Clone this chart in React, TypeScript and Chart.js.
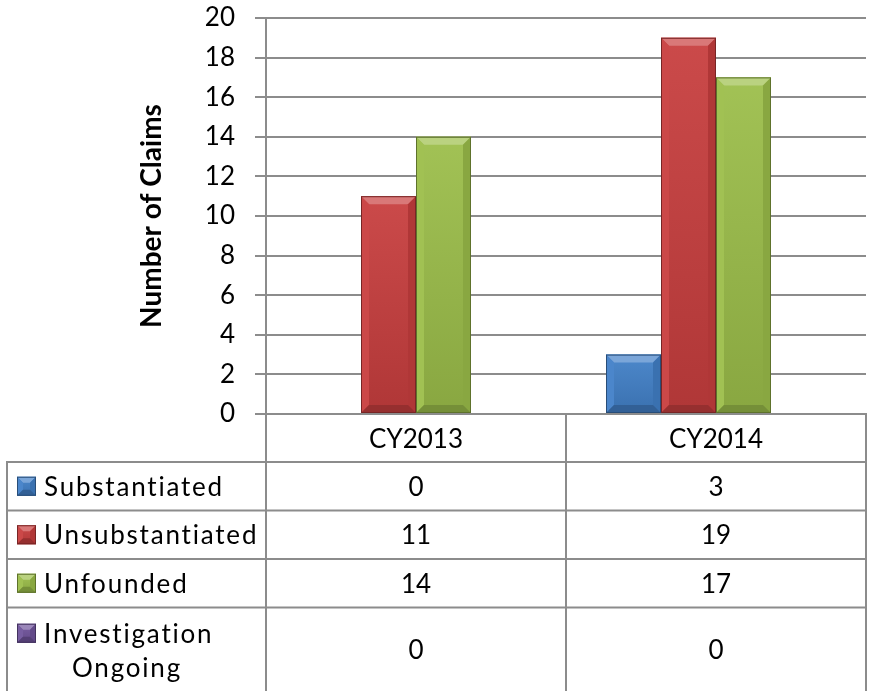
import { useEffect, useRef } from "react";
import { Chart, registerables } from "chart.js";

Chart.register(...registerables);

// ---- data ----
const categories = ["CY2013", "CY2014"];
const seriesNames = ["Substantiated", "Unsubstantiated", "Unfounded", "Investigation Ongoing"];
const seriesLabelLines = [["Substantiated"], ["Unsubstantiated"], ["Unfounded"], ["Investigation", "Ongoing"]];
const substantiated = [0, 3];
const unsubstantiated = [11, 19];
const unfounded = [14, 17];
const investigationOngoing = [0, 0];
const yMin = 0;
const yMax = 20;
const yStep = 2;
const yTitle = "Number of Claims";

// ---- style ----
const seriesColors: [number, number, number][] = [
  [66, 128, 200],
  [200, 62, 62],
  [156, 190, 74],
  [112, 84, 156],
];
const FONT = "Lato, 'Open Sans', sans-serif";
const GRID = "#8c8c8c";

function mix(c: [number, number, number], t: [number, number, number], a: number) {
  return `rgb(${Math.round(c[0] + (t[0] - c[0]) * a)},${Math.round(c[1] + (t[1] - c[1]) * a)},${Math.round(
    c[2] + (t[2] - c[2]) * a
  )})`;
}
const W: [number, number, number] = [255, 255, 255];
const K: [number, number, number] = [0, 0, 0];

function poly(ctx: CanvasRenderingContext2D, pts: number[][], fill: string) {
  ctx.beginPath();
  ctx.moveTo(pts[0][0], pts[0][1]);
  for (let i = 1; i < pts.length; i++) ctx.lineTo(pts[i][0], pts[i][1]);
  ctx.closePath();
  ctx.fillStyle = fill;
  ctx.fill();
}

function bevelRect(
  ctx: CanvasRenderingContext2D,
  l: number,
  t: number,
  r: number,
  b: number,
  c: [number, number, number],
  bev: number
) {
  const w = r - l;
  const h = b - t;
  if (w < 1 || h < 1) return;
  ctx.save();
  const d = Math.min(bev, w / 2, h / 2);
  const g = ctx.createLinearGradient(0, t, 0, b);
  g.addColorStop(0, mix(c, W, 0.06));
  g.addColorStop(1, mix(c, K, 0.12));
  ctx.fillStyle = g;
  ctx.fillRect(l, t, w, h);
  poly(ctx, [[l, t], [r, t], [r - d, t + d], [l + d, t + d]], mix(c, W, 0.3));
  poly(ctx, [[l, t], [l + d, t + d], [l + d, b - d], [l, b]], mix(c, W, 0.05));
  poly(ctx, [[r, t], [r, b], [r - d, b - d], [r - d, t + d]], mix(c, K, 0.12));
  poly(ctx, [[l, b], [r, b], [r - d, b - d], [l + d, b - d]], mix(c, K, 0.25));
  ctx.strokeStyle = mix(c, K, 0.4);
  ctx.lineWidth = 1;
  ctx.strokeRect(l + 0.5, t + 0.5, w - 1, h - 1);
  ctx.restore();
}

const bevelPlugin = {
  id: "bevelBars",
  afterDatasetsDraw(chart: any) {
    const ctx = chart.ctx as CanvasRenderingContext2D;
    ctx.save();
    chart.data.datasets.forEach((ds: any, di: number) => {
      const meta = chart.getDatasetMeta(di);
      meta.data.forEach((el: any) => {
        const p = el.getProps(["x", "y", "base", "width"], true);
        const l = p.x - p.width / 2;
        const r = p.x + p.width / 2;
        bevelRect(ctx, l, Math.min(p.y, p.base), r, Math.max(p.y, p.base), seriesColors[di], 8);
      });
    });
    ctx.restore();
  },
};

const tablePlugin = {
  id: "dataTable",
  afterDraw(chart: any) {
    const ctx = chart.ctx as CanvasRenderingContext2D;
    const xs = chart.scales.x;
    const area = chart.chartArea;
    const H = chart.height;
    const tableLeft = 7;
    const rowTop = xs.bottom;
    const rowH = 48.5;
    const rows = [rowTop, rowTop + rowH, rowTop + 2 * rowH, rowTop + 3 * rowH, H];
    const centers = categories.map((_, i) => xs.getPixelForValue(i));
    const bounds = [area.left];
    for (let i = 0; i < centers.length - 1; i++) bounds.push((centers[i] + centers[i + 1]) / 2);
    bounds.push(area.right);

    ctx.save();
    ctx.strokeStyle = GRID;
    ctx.lineWidth = 2;
    bounds.forEach((x) => {
      ctx.beginPath();
      ctx.moveTo(x, area.bottom);
      ctx.lineTo(x, H);
      ctx.stroke();
    });
    ctx.beginPath();
    ctx.moveTo(tableLeft, rows[0]);
    ctx.lineTo(tableLeft, H);
    ctx.stroke();
    for (let i = 0; i < 4; i++) {
      ctx.beginPath();
      ctx.moveTo(tableLeft - 1, rows[i]);
      ctx.lineTo(area.right + 1, rows[i]);
      ctx.stroke();
    }

    ctx.font = `26px ${FONT}`;
    ctx.textBaseline = "middle";
    chart.data.datasets.forEach((ds: any, di: number) => {
      const top = rows[di];
      const bot = rows[di + 1];
      const mid = (top + bot) / 2;
      ctx.fillStyle = "#000";
      (ctx as any).letterSpacing = "0px";
      ctx.textAlign = "center";
      ds.data.forEach((v: number, ci: number) => {
        ctx.fillText(String(v), centers[ci], mid + 1);
      });
      const lines = seriesLabelLines[di];
      if (lines.length === 1) {
        bevelRect(ctx, 17, mid - 9.5, 36, mid + 9.5, seriesColors[di], 6);
        ctx.fillStyle = "#000";
        (ctx as any).letterSpacing = "1.8px";
        ctx.textAlign = "left";
        ctx.fillText(lines[0], 44, mid + 1);
      } else {
        const y1 = mid - 16;
        const y2 = mid + 18;
        bevelRect(ctx, 17, y1 - 9.5, 36, y1 + 9.5, seriesColors[di], 6);
        ctx.fillStyle = "#000";
        (ctx as any).letterSpacing = "1.8px";
        ctx.textAlign = "left";
        ctx.fillText(lines[0], 44, y1 + 1);
        ctx.textAlign = "center";
        ctx.fillText(lines[1], 127, y2 + 1);
      }
    });
    (ctx as any).letterSpacing = "0px";
    ctx.restore();
  },
};

export default function App() {
  const ref = useRef<HTMLCanvasElement | null>(null);
  useEffect(() => {
    document.body.style.margin = "0";
    const canvas = ref.current!;
    const seriesData = [substantiated, unsubstantiated, unfounded, investigationOngoing];
    const chart = new Chart(canvas, {
      type: "bar",
      data: {
        labels: categories,
        datasets: seriesNames.map((name, i) => ({
          label: name,
          data: seriesData[i],
          backgroundColor: mix(seriesColors[i], K, 0),
          borderWidth: 0,
          categoryPercentage: 220 / 300,
          barPercentage: 1,
        })),
      },
      options: {
        responsive: false,
        animation: false,
        devicePixelRatio: 1,
        layout: { padding: { top: 0, left: 135, right: 8, bottom: 229 } },
        plugins: { legend: { display: false }, tooltip: { enabled: false } },
        scales: {
          x: {
            grid: { display: false, drawTicks: false },
            border: { display: true, color: GRID, width: 2 },
            ticks: { font: { family: FONT, size: 26 }, color: "#000", padding: 10 },
            afterFit: (s: any) => {
              s.height = 48;
            },
          },
          y: {
            min: yMin,
            max: yMax,
            ticks: { stepSize: yStep, font: { family: FONT, size: 26 }, color: "#000", padding: 20 },
            grid: { color: GRID, lineWidth: 2, tickLength: 11, drawTicks: true },
            border: { display: true, color: GRID, width: 2 },
            title: {
              display: true,
              text: yTitle,
              font: { family: FONT, size: 28, weight: "bold" },
              color: "#000",
              padding: 0,
            },
            afterFit: (s: any) => {
              s.width = 131;
              s.paddingTop = 18;
              s.paddingBottom = 0;
            },
          },
        },
      },
      plugins: [bevelPlugin, tablePlugin],
    } as any);
    return () => chart.destroy();
  }, []);
  return (
    <div style={{ width: 874, height: 691, background: "#fff" }}>
      <canvas ref={ref} width={874} height={691} />
    </div>
  );
}
